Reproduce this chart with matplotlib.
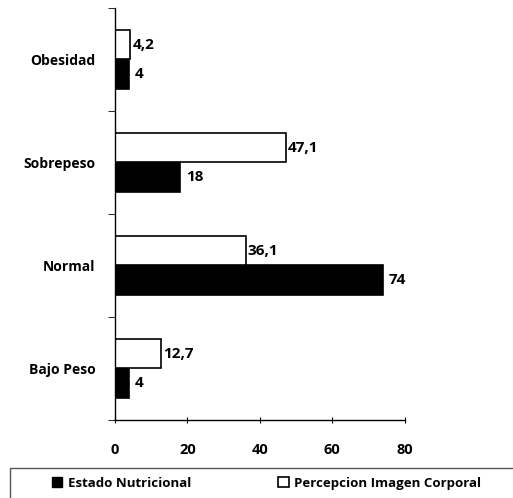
import matplotlib.pyplot as plt
from matplotlib.patches import Patch, Rectangle
import numpy as np

plt.rcParams["font.family"] = ["Open Sans", "DejaVu Sans"]
plt.rcParams["font.weight"] = "bold"

categories = ["Bajo Peso", "Normal", "Sobrepeso", "Obesidad"]
estado_nutricional = [4, 74, 18, 4]
percepcion_imagen = [12.7, 36.1, 47.1, 4.2]
xticks = [0, 20, 40, 60, 80]


def fmt(v):
    return str(v).replace(".", ",") if v != int(v) else str(int(v))


fig = plt.figure(figsize=(5.13, 4.98), dpi=100)
ax = fig.add_axes([0.224, 0.157, 0.565, 0.827])

y = np.arange(len(categories))
h = 0.285
ax.barh(y - h / 2, estado_nutricional, height=h, color="black", edgecolor="black", linewidth=1.2)
ax.barh(y + h / 2, percepcion_imagen, height=h, color="white", edgecolor="black", linewidth=1.2)

for yi, v in zip(y, estado_nutricional):
    ax.text(v + 1.6, yi - h / 2, fmt(v), va="center", ha="left", fontsize=11, fontweight="bold")
for yi, v in zip(y, percepcion_imagen):
    ax.text(v + 0.6, yi + h / 2, fmt(v), va="center", ha="left", fontsize=11, fontweight="bold")

ax.set_xlim(0, 80)
ax.set_ylim(-0.5, 3.5)
ax.set_xticks(xticks)
ax.set_xticklabels([str(t) for t in xticks], fontsize=10.5, fontweight="bold")
ax.set_yticks(y)
ax.set_yticklabels(categories, fontsize=10, fontweight="bold")
ax.set_yticks(np.arange(-0.5, 4.0, 1.0), minor=True)
ax.tick_params(axis="y", which="major", length=0, pad=14)
ax.tick_params(axis="y", which="minor", length=5, direction="out")
ax.tick_params(axis="x", length=5, direction="inout", pad=14)

for side in ["top", "right"]:
    ax.spines[side].set_visible(False)
for side in ["left", "bottom"]:
    ax.spines[side].set_color("black")
    ax.spines[side].set_linewidth(1.0)

# legend frame runs off the right edge in the original
fig.patches.append(Rectangle((10 / 513, -0.02), 1.0, 30 / 498 + 0.02, transform=fig.transFigure,
                             fill=False, edgecolor="#555555", linewidth=1.0))
handles = [Patch(facecolor="black", edgecolor="black"),
           Patch(facecolor="white", edgecolor="black", linewidth=1.2)]
fig.legend(handles, ["Estado Nutricional", "Percepcion Imagen Corporal"], ncol=2,
           loc="center left", bbox_to_anchor=(40 / 513, 15 / 498), frameon=False,
           handlelength=0.8, handleheight=0.8, handletextpad=0.4,
           columnspacing=6.6, prop={"weight": "bold", "size": 9.5})

fig.savefig("out.png", dpi=100, facecolor="white")
